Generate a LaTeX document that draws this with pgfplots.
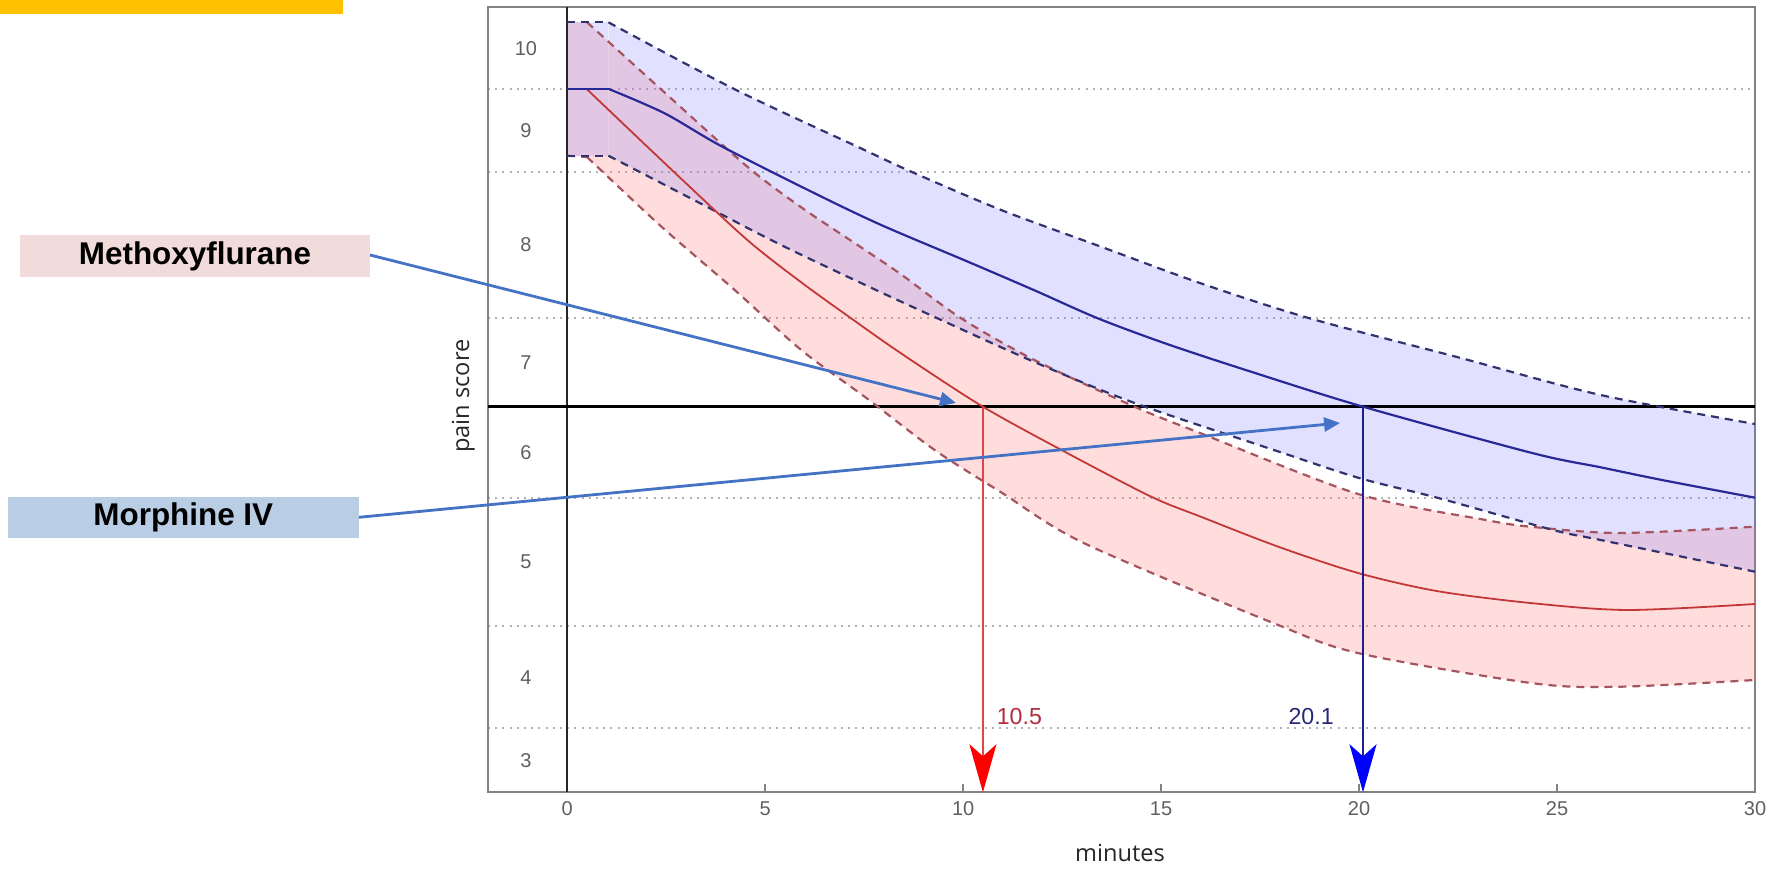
\documentclass[border=0pt]{standalone}
\usepackage{fontspec}
\setmainfont{Liberation Sans}
\newfontfamily\labelfont{Open Sans}
\usepackage{pgfplots}
\usepackage{pgfplotstable}
\pgfplotsset{compat=1.18}
\usepgfplotslibrary{fillbetween}
\usetikzlibrary{arrows.meta}

\definecolor{bandblue}{RGB}{120,120,255}
\definecolor{bandred}{RGB}{255,120,120}
\definecolor{dashblue}{RGB}{50,50,110}
\definecolor{dashred}{RGB}{165,85,95}
\definecolor{meanblue}{RGB}{40,40,150}
\definecolor{meanred}{RGB}{195,55,55}
\definecolor{callout}{RGB}{68,114,196}
\definecolor{methbox}{RGB}{242,220,219}
\definecolor{morphbox}{RGB}{185,205,229}
\definecolor{topbar}{RGB}{255,192,0}
\definecolor{ticktext}{RGB}{95,95,95}
\definecolor{framegray}{RGB}{130,130,130}
\definecolor{arrowlinered}{RGB}{225,70,70}
\definecolor{arrowlineblue}{RGB}{30,30,140}
\definecolor{labred}{RGB}{175,45,60}
\definecolor{labblue}{RGB}{40,40,120}

% y values: position on the (non-uniform) pain score scale, 0 = bottom, 78.5 = top
\pgfplotstableread{
x y
0 70.30
1.07 70.30
2.46 67.9
3.9 64.6
6.25 59.9
7.93 56.73
10.12 53.06
11.8 50.2
13.4 47.4
15.17 44.8
17.27 42.06
20.1 38.56
24.4 33.90
26.1 32.50
27.65 31.23
30 29.46
}\bluemean
\pgfplotstableread{
x y
0 77.00
1.04 77.00
4.23 70.30
7.4 64.43
8.69 62.06
10.96 58.23
13.48 54.56
16.0 50.90
18.75 47.40
22.5 43.50
26.1 39.73
30 36.83
}\blueup
\pgfplotstableread{
x y
0 63.66
1.04 63.66
3.2 59.23
5.3 54.93
7.42 50.93
9.28 47.53
11.8 43.03
14.33 38.93
17.85 34.23
20.0 31.43
22.0 29.43
24.9 26.23
26.1 25.23
30 22.06
}\bluelow
\pgfplotstableread{
x y
0 70.30
0.5 70.30
2.69 62.06
4.55 55.23
5.91 51.0
7.17 47.40
8.43 43.90
10.5 38.56
12.64 33.9
14.75 29.56
16.0 27.56
18.0 24.5
20.0 21.90
22.0 20.1
24.4 18.90
26.8 18.23
30 18.83
}\redmean
\pgfplotstableread{
x y
0 77.00
0.5 77.00
0.8 75.93
2.37 70.30
4.55 62.56
5.91 58.5
7.42 54.5
8.43 51.8
9.95 47.40
11.8 43.23
14.33 38.56
16.0 35.90
20.0 29.8
23.2 27.23
24.4 26.53
26.6 25.93
30 26.56
}\redup
\pgfplotstableread{
x y
0 63.66
0.5 63.53
2.37 56.6
4.23 50.23
5.91 44.23
7.6 39.3
9.28 34.23
10.96 30.0
13.06 24.90
17.85 16.90
20.0 13.90
24.4 10.90
26.6 10.56
30 11.23
}\redlow

\pgfplotsset{
  blueflat/.style={restrict x to domain=0:1.08},
  bluecurve/.style={restrict x to domain=0.95:30, smooth},
  redflat/.style={restrict x to domain=0:0.55},
  redcurve/.style={restrict x to domain=0.45:30, smooth},
  cidash/.style={line width=1.1pt, dash pattern=on 4pt off 3pt},
}

\begin{document}
\begin{tikzpicture}
\fill[topbar] (-244pt,396.15pt) rectangle (-72.5pt,389.3pt);
\node[fill=methbox, minimum width=175pt, minimum height=20.85pt, inner sep=0pt,
  font=\bfseries\fontsize{15.7}{18}\selectfont] at (-146.5pt,268.2pt) {Methoxyflurane};
\node[fill=morphbox, minimum width=175.3pt, minimum height=20.5pt, inner sep=0pt,
  font=\bfseries\fontsize{15.7}{18}\selectfont] at (-152.35pt,137.25pt) {Morphine IV};

\begin{axis}[
  scale only axis, width=633.5pt, height=392.5pt,
  xmin=-2, xmax=30, ymin=0, ymax=78.5,
  clip=false,
  axis line style={framegray, line width=1pt},
  xtick={0,5,...,30}, xtick pos=left, ytick pos=left,
  tick align=inside, major tick length=4pt,
  tick style={framegray, line width=0.8pt},
  ytick={74.4,66.18,54.73,42.98,34.01,23.05,11.5,3.2},
  yticklabels={10,9,8,7,6,5,4,3},
  ytick style={draw=none},
  extra y ticks={70.30,62.06,47.40,29.46,16.63,6.40},
  extra y tick labels={},
  extra y tick style={grid=major, major tick length=0pt},
  major grid style={gray!60, line width=1pt, dash pattern=on 1pt off 2.6pt},
  ticklabel style={font=\fontsize{10}{12}\selectfont, text=ticktext},
  /pgf/number format/assume math mode=true,
  xticklabel style={anchor=center, yshift=-8pt},
  yticklabel style={anchor=center, xshift=19pt},
  xlabel={minutes}, ylabel={pain score},
  xlabel style={at={(axis description cs:0.4988,-0.0773)}, anchor=center,
    font=\labelfont\fontsize{11.8}{14}\selectfont, text=black!85},
  ylabel style={at={(axis description cs:-0.0195,0.5048)}, anchor=center,
    font=\labelfont\fontsize{11.8}{14}\selectfont, text=black!85},
]
% invisible boundaries for the bands (flat start + smooth decline)
\addplot[draw=none, redflat, name path=RUf] table[x=x,y=y]{\redup};
\addplot[draw=none, redflat, name path=RLf] table[x=x,y=y]{\redlow};
\addplot[draw=none, redcurve, name path=RUs] table[x=x,y=y]{\redup};
\addplot[draw=none, redcurve, name path=RLs] table[x=x,y=y]{\redlow};
\addplot[draw=none, blueflat, name path=BUf] table[x=x,y=y]{\blueup};
\addplot[draw=none, blueflat, name path=BLf] table[x=x,y=y]{\bluelow};
\addplot[draw=none, bluecurve, name path=BUs] table[x=x,y=y]{\blueup};
\addplot[draw=none, bluecurve, name path=BLs] table[x=x,y=y]{\bluelow};
\addplot[bandred, fill opacity=0.25, draw=none] fill between[of=RUf and RLf];
\addplot[bandred, fill opacity=0.25, draw=none] fill between[of=RUs and RLs];
\addplot[bandblue, fill opacity=0.22, draw=none] fill between[of=BUf and BLf];
\addplot[bandblue, fill opacity=0.22, draw=none] fill between[of=BUs and BLs];

% zero line and threshold
\addplot[black!85, line width=0.9pt] coordinates {(0,0) (0,78.5)};
\addplot[black, line width=1.8pt] coordinates {(-2,38.56) (30,38.56)};

% confidence limits
\addplot[dashred, cidash, redflat] table[x=x,y=y]{\redup};
\addplot[dashred, cidash, redcurve] table[x=x,y=y]{\redup};
\addplot[dashred, cidash, redflat] table[x=x,y=y]{\redlow};
\addplot[dashred, cidash, redcurve] table[x=x,y=y]{\redlow};
\addplot[dashblue, cidash, blueflat] table[x=x,y=y]{\blueup};
\addplot[dashblue, cidash, bluecurve] table[x=x,y=y]{\blueup};
\addplot[dashblue, cidash, blueflat] table[x=x,y=y]{\bluelow};
\addplot[dashblue, cidash, bluecurve] table[x=x,y=y]{\bluelow};

% means
\addplot[meanred, line width=0.9pt, redflat] table[x=x,y=y]{\redmean};
\addplot[meanred, line width=0.9pt, redcurve] table[x=x,y=y]{\redmean};
\addplot[meanblue, line width=1.1pt, blueflat] table[x=x,y=y]{\bluemean};
\addplot[meanblue, line width=1.1pt, bluecurve] table[x=x,y=y]{\bluemean};

% time-to-threshold arrows
\addplot[arrowlinered, line width=1pt, -{Stealth[length=24pt,width=13.5pt,inset=6pt,color=red]}]
  coordinates {(10.5,38.56) (10.5,0)};
\addplot[arrowlineblue, line width=1pt, -{Stealth[length=24pt,width=13.5pt,inset=6pt,color=blue]}]
  coordinates {(20.1,38.56) (20.1,0)};
\node[anchor=west, inner sep=0pt, text=labred, font=\fontsize{11.6}{13}\selectfont] at (axis cs:10.84,7.56) {10.5};
\node[anchor=east, inner sep=0pt, text=labblue, font=\fontsize{11.6}{13}\selectfont] at (axis cs:19.37,7.56) {20.1};

% callout arrows
\draw[callout, line width=1.4pt, -{Triangle[length=8pt,width=7pt]}] (axis cs:-4.98,53.73) -- (axis cs:9.82,38.93);
\draw[callout, line width=1.4pt, -{Triangle[length=8pt,width=7pt]}] (axis cs:-5.26,27.5) -- (axis cs:19.52,36.93);
\end{axis}
\pgfresetboundingbox
\path[use as bounding box] (-244pt,-39.85pt) rectangle (644.5pt,396.15pt);
\end{tikzpicture}
\end{document}
